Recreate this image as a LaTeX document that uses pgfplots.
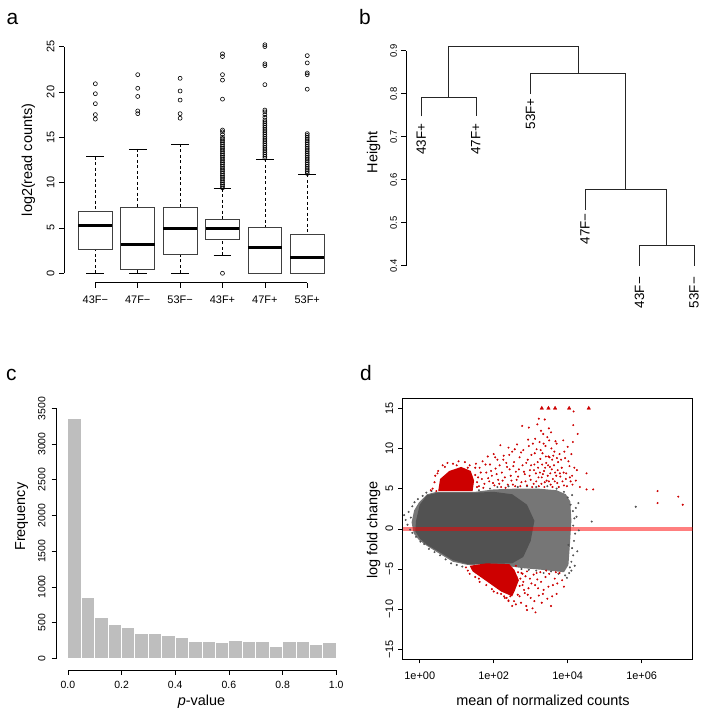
\documentclass[border=0pt]{standalone}
\usepackage{pgfplots}
\pgfplotsset{compat=1.18}
\usepgfplotslibrary{statistics}
\usepackage{fontspec}
\setmainfont{Liberation Sans}
\definecolor{ptgray}{HTML}{525252}
\definecolor{ptgraylt}{HTML}{767676}
\definecolor{ptred}{HTML}{CD0000}
\definecolor{histgray}{HTML}{BEBEBE}
\definecolor{boxedge}{HTML}{404040}
\pgfplotsset{
  /pgf/number format/assume math mode=true,
  rstyle/.style={
    scale only axis, anchor=south west, clip=false,
    axis x line*=bottom, axis y line*=left,
    axis line style={draw=none},
    tick align=outside, major tick length=5bp,
    tick style={black, line width=0.6bp},
  },
}
\newcommand{\tf}[1]{\fontsize{#1}{#1}\selectfont}
\begin{document}
\begin{tikzpicture}
\useasboundingbox (0bp,0bp) rectangle (704bp,712bp);

% ---------------- panel a ----------------
\begin{axis}[rstyle, at={(64bp,429.3bp)}, width=274.6bp, height=247bp,
  xmin=0.26, xmax=6.74, ymin=-1.04, ymax=26.2,
  xtick={1,2,3,4,5,6}, xticklabels={43F−,47F−,53F−,43F+,47F+,53F+},
  ytick={0,5,10,15,20,25}, yticklabels={0,5,10,15,20,25},
  ticklabel style={font=\tf{11}},
  xticklabel style={yshift=-5bp},
  yticklabel style={xshift=-1bp, rotate=90, anchor=south},
  boxplot/draw direction=y,
  boxplot/box extend=0.8,
  boxplot/whisker extend=0.42,
  boxplot/every box/.style={draw=boxedge, fill=white, line width=0.7bp},
  boxplot/every median/.style={black, line width=3bp},
  boxplot/draw/lower whisker/.code={%
    \draw[black, line width=0.6bp, dash pattern=on 3bp off 2.5bp]
      (boxplot cs:\pgfplotsboxplotvalue{lower whisker}) -- (boxplot cs:\pgfplotsboxplotvalue{lower quartile});
    \draw[black, line width=0.6bp]
      (boxplot whisker cs:\pgfplotsboxplotvalue{lower whisker},0) -- (boxplot whisker cs:\pgfplotsboxplotvalue{lower whisker},1);
  },
  boxplot/draw/upper whisker/.code={%
    \draw[black, line width=0.6bp, dash pattern=on 3bp off 2.5bp]
      (boxplot cs:\pgfplotsboxplotvalue{upper whisker}) -- (boxplot cs:\pgfplotsboxplotvalue{upper quartile});
    \draw[black, line width=0.6bp]
      (boxplot whisker cs:\pgfplotsboxplotvalue{upper whisker},0) -- (boxplot whisker cs:\pgfplotsboxplotvalue{upper whisker},1);
  },
  outl/.style={black, mark=o, mark size=2bp, mark options={solid, line width=0.6bp, draw=black}},
]
\addplot[outl, boxplot prepared={draw position=1, lower whisker=0, lower quartile=2.68, median=5.29, upper quartile=6.87, upper whisker=12.87}]
  coordinates {(0,17.0) (0,17.5) (0,18.7) (0,19.8) (0,20.9)};
\addplot[outl, boxplot prepared={draw position=2, lower whisker=0, lower quartile=0.48, median=3.16, upper quartile=7.32, upper whisker=13.71}]
  coordinates {(0,17.6) (0,17.9) (0,19.5) (0,20.4) (0,21.9)};
\addplot[outl, boxplot prepared={draw position=3, lower whisker=0, lower quartile=2.06, median=4.89, upper quartile=7.24, upper whisker=14.26}]
  coordinates {(0,17.1) (0,17.6) (0,19.1) (0,20.1) (0,21.5)};
\addplot[outl, boxplot prepared={draw position=4, lower whisker=1.99, lower quartile=3.75, median=4.96, upper quartile=5.96, upper whisker=9.34}]
  coordinates {(0,0) (0,9.4) (0,9.6) (0,9.8) (0,10.0) (0,10.2) (0,10.4) (0,10.6) (0,10.8) (0,11.0) (0,11.2) (0,11.4) (0,11.6) (0,11.8) (0,12.0) (0,12.2) (0,12.4) (0,12.6) (0,12.8) (0,13.0) (0,13.2) (0,13.4) (0,13.6) (0,13.8) (0,14.0) (0,14.2) (0,14.4) (0,14.6) (0,14.8) (0,15.0) (0,15.3) (0,15.6) (0,15.8) (0,19.2) (0,21.3) (0,21.9) (0,23.9) (0,24.2)};
\addplot[outl, boxplot prepared={draw position=5, lower whisker=0, lower quartile=0, median=2.87, upper quartile=5.04, upper whisker=12.57}]
  coordinates {(0,12.7) (0,12.9) (0,13.1) (0,13.3) (0,13.5) (0,13.7) (0,13.9) (0,14.1) (0,14.3) (0,14.5) (0,14.7) (0,14.9) (0,15.1) (0,15.3) (0,15.5) (0,15.7) (0,15.9) (0,16.1) (0,16.3) (0,16.5) (0,16.7) (0,16.9) (0,17.2) (0,17.5) (0,17.8) (0,18.0) (0,20.8) (0,22.9) (0,23.1) (0,25.0) (0,25.2)};
\addplot[outl, boxplot prepared={draw position=6, lower whisker=0, lower quartile=0, median=1.73, upper quartile=4.30, upper whisker=10.90}]
  coordinates {(0,11.0) (0,11.2) (0,11.4) (0,11.6) (0,11.8) (0,12.0) (0,12.2) (0,12.4) (0,12.6) (0,12.8) (0,13.0) (0,13.2) (0,13.4) (0,13.6) (0,13.8) (0,14.0) (0,14.2) (0,14.4) (0,14.6) (0,14.8) (0,15.0) (0,15.2) (0,15.4) (0,20.3) (0,21.9) (0,22.1) (0,23.2) (0,24.0)};
\draw[black, line width=0.6bp] (axis cs:1,-1.04) -- (axis cs:6,-1.04);
\draw[black, line width=0.6bp] (axis cs:0.26,0) -- (axis cs:0.26,25);
\end{axis}

% ---------------- panel b ----------------
\begin{axis}[rstyle, at={(406bp,446.3bp)}, width=294bp, height=227.9bp,
  xmin=0.719, xmax=6.11, ymin=0.4, ymax=0.93,
  xtick=\empty,
  ytick={0.4,0.5,0.6,0.7,0.8,0.9}, yticklabels={0.4,0.5,0.6,0.7,0.8,0.9},
  ticklabel style={font=\tf{9.5}},
  yticklabel style={xshift=-0.5bp, rotate=90, anchor=south},
]
\addplot[black!85, line width=0.7bp] coordinates {(1,0.747) (1,0.792) (2,0.792) (2,0.747)};
\addplot[black!85, line width=0.7bp] coordinates {(5,0.4) (5,0.447) (6,0.447) (6,0.4)};
\addplot[black!85, line width=0.7bp] coordinates {(4,0.530) (4,0.578) (5.5,0.578) (5.5,0.447)};
\addplot[black!85, line width=0.7bp] coordinates {(3,0.799) (3,0.847) (4.75,0.847) (4.75,0.578)};
\addplot[black!85, line width=0.7bp] coordinates {(1.5,0.792) (1.5,0.909) (3.875,0.909) (3.875,0.847)};
\draw[black, line width=0.6bp] (axis cs:0.719,0.4) -- (axis cs:0.719,0.9);
\node[rotate=90, anchor=east, inner sep=0, font=\tf{13.5}] at (axis cs:1,0.731) {43F+};
\node[rotate=90, anchor=east, inner sep=0, font=\tf{13.5}] at (axis cs:2,0.731) {47F+};
\node[rotate=90, anchor=east, inner sep=0, font=\tf{13.5}] at (axis cs:3,0.790) {53F+};
\node[rotate=90, anchor=east, inner sep=0, font=\tf{13.5}] at (axis cs:4,0.522) {47F−};
\node[rotate=90, anchor=east, inner sep=0, font=\tf{13.5}] at (axis cs:5,0.374) {43F−};
\node[rotate=90, anchor=east, inner sep=0, font=\tf{13.5}] at (axis cs:6,0.374) {53F−};
\end{axis}

% ---------------- panel c ----------------
\begin{axis}[rstyle, at={(56.6bp,42bp)}, width=290.4bp, height=271.6bp,
  xmin=-0.042, xmax=1.04, ymin=-164, ymax=3640,
  xtick={0,0.2,0.4,0.6,0.8,1}, xticklabels={0.0,0.2,0.4,0.6,0.8,1.0},
  ytick={0,500,1000,1500,2000,2500,3000,3500}, yticklabels={0,500,1000,1500,2000,2500,3000,3500},
  ticklabel style={font=\tf{10.5}},
  xticklabel style={yshift=-3bp},
  yticklabel style={xshift=-2.5bp, rotate=90, anchor=south},
]
\addplot[ybar interval, fill=histgray, draw=white, line width=1bp] coordinates {
(0,3360) (0.05,845) (0.1,565) (0.15,470) (0.2,435) (0.25,350) (0.3,345) (0.35,315) (0.4,290) (0.45,235)
(0.5,230) (0.55,225) (0.6,250) (0.65,230) (0.7,230) (0.75,165) (0.8,240) (0.85,235) (0.9,190) (0.95,225) (1.0,225)};
\draw[black, line width=0.6bp] (axis cs:0,-164) -- (axis cs:1,-164);
\draw[black, line width=0.6bp] (axis cs:-0.042,0) -- (axis cs:-0.042,3500);
\end{axis}

% ---------------- panel d ----------------
\begin{axis}[scale only axis, anchor=south west, at={(402.7bp,53bp)}, width=290bp, height=260.7bp,
  xmin=-0.46, xmax=7.38, ymin=-16.2, ymax=16.24,
  axis line style={line width=0.8bp, black},
  tick align=outside, major tick length=4.5bp, tick style={black, line width=0.6bp},
  xtick pos=left, ytick pos=left,
  xtick={0,2,4,6}, xticklabels={1e+00,1e+02,1e+04,1e+06},
  ytick={-15,-10,-5,0,5,10,15}, yticklabels={−15,−10,−5,0,5,10,15},
  ticklabel style={font=\tf{11}},
  xticklabel style={yshift=-4.5bp},
  yticklabel style={xshift=-1.5bp, rotate=90, anchor=south},
]
% dense grey cloud (outer, lighter)
\addplot[fill=ptgraylt, draw=none] coordinates {
(-0.22,0.8) (-0.15,2.3) (-0.02,3.3) (0.2,4.3) (0.45,4.6) (1.5,4.6) (2.0,4.9) (2.6,5.0) (3.2,5.0) (3.7,4.8)
(3.95,4.3) (4.07,3.4) (4.1,1.0) (4.06,-2.0) (4.02,-4.5) (3.9,-5.4) (3.3,-5.1) (2.8,-4.9) (2.0,-4.4) (1.3,-4.5)
(0.9,-4.1) (0.5,-3.0) (0.22,-2.2) (-0.02,-1.4) (-0.16,-0.6)} -- cycle;
% dense grey cloud (core)
\addplot[fill=ptgray, draw=none] coordinates {
(-0.1,1.0) (0.0,3.0) (0.2,4.2) (0.5,4.5) (1.5,4.5) (2.0,4.6) (2.5,4.3) (2.9,3.0) (3.1,1.0) (3.0,-1.5)
(2.8,-3.5) (2.5,-4.3) (1.3,-4.4) (0.9,-3.9) (0.5,-2.8) (0.2,-2.0) (0.0,-1.2) (-0.12,-0.3)} -- cycle;
% scattered grey points
\addplot[only marks, mark=*, mark size=0.8bp, ptgray] coordinates {
(-0.42,1.7) (-0.38,1.1) (-0.33,0.5) (-0.3,2.1) (-0.26,-0.1) (-0.24,1.4) (-0.2,2.8) (-0.2,-0.5) (-0.14,3.3)
(-0.1,-1.0) (-0.05,3.7) (0.02,-1.6) (0.08,4.1) (0.12,-1.9) (0.18,4.5) (0.25,-2.5) (0.32,4.7) (0.4,-2.9)
(0.55,-3.3) (0.7,-3.8) (0.85,-4.3) (1.0,-4.5) (1.15,-4.7)
(1.6,4.8) (1.9,5.0) (2.1,5.2) (2.4,5.3) (2.65,5.2) (2.9,5.3) (3.15,5.2) (3.45,5.3) (3.7,5.0) (3.9,4.6)
(4.0,3.9) (4.08,3.0) (4.14,2.2) (4.18,1.3) (4.15,0.4) (4.2,-0.6) (4.17,-1.5) (4.12,-2.4) (4.15,-3.3)
(4.1,-4.1) (4.06,-4.8) (4.04,-5.5) (3.93,-5.8) (4.24,1.5) (4.29,3.2) (4.02,-2.0)
(4.22,2.6) (4.26,-2.8) (4.19,-4.6) (4.3,-0.2) (4.12,4.2) (4.1,-5.2) (3.98,-6.1)
(3.75,-5.6) (3.55,-5.3) (3.35,-5.5) (3.15,-5.2) (2.95,-5.1) (2.75,-5.0)
(4.65,0.9) (5.84,2.75)};
% dense red clusters
\addplot[fill=ptred, draw=none] coordinates {
(0.5,4.7) (0.55,6.2) (0.8,7.2) (1.12,7.7) (1.38,7.2) (1.47,6.0) (1.43,4.7)} -- cycle;
\addplot[fill=ptred, draw=none] coordinates {
(1.35,-4.6) (1.8,-4.3) (2.42,-4.4) (2.56,-5.1) (2.68,-6.4) (2.57,-7.7) (2.5,-8.4) (2.2,-7.8) (1.77,-6.4) (1.43,-5.3)} -- cycle;
% scattered red points
\addplot[only marks, mark=*, mark size=0.8bp, ptred] coordinates {
(0.35,5.0) (0.4,5.8) (0.42,6.6) (0.5,7.2) (0.62,7.9) (0.75,8.2) (0.9,8.1) (1.05,8.4) (1.22,8.3) (1.35,7.9)
(1.5,7.6) (1.55,5.2) (1.58,6.4) (0.3,4.8) (0.45,4.7) (0.48,6.9) (0.68,7.7) (1.0,7.9) (1.3,7.6) (1.5,6.7)
(1.52,8.1) (1.6,5.3) (1.62,7.6) (1.68,6.2) (1.7,8.4) (1.75,5.6) (1.8,7.0) (1.84,9.0) (1.88,5.9) (1.9,8.0)
(1.95,6.6) (2.0,9.3) (2.02,5.4) (2.05,7.5) (2.1,8.6) (2.12,6.1) (2.18,10.4) (2.2,5.2) (2.22,7.0) (2.27,9.1)
(2.3,6.4) (2.34,8.2) (2.38,5.5) (2.4,10.1) (2.43,7.4) (2.48,6.0) (2.5,9.6) (2.55,8.3) (2.58,5.3) (2.6,7.1)
(2.63,10.5) (2.66,6.5) (2.7,8.9) (2.77,12.8) (2.75,5.8) (2.78,7.9) (2.8,9.8) (2.84,6.8) (2.95,12.6) (2.9,5.4)
(2.92,8.6) (2.95,10.3) (2.98,7.3) (3.0,6.1) (3.02,9.2) (3.22,13.7) (3.08,5.6) (3.1,8.0) (3.12,11.2) (3.14,6.9)
(3.16,9.9) (3.18,13.0) (3.2,7.6) (3.22,5.3) (3.24,10.8) (3.26,8.7) (3.28,12.2) (3.3,6.4) (3.32,9.4) (3.34,11.8)
(3.36,7.2) (3.38,5.8) (3.4,10.3) (3.42,8.2) (3.38,13.6) (3.46,6.6) (3.48,9.0) (3.5,11.0) (3.52,7.7) (3.54,5.5)
(3.56,10.0) (3.58,8.6) (3.6,6.2) (3.49,12.5) (3.64,9.6) (3.66,7.0) (3.7,10.6) (3.72,5.7) (3.74,8.3) (3.78,9.3)
(3.8,6.5) (3.84,7.6) (3.88,11.0) (3.9,5.4) (3.93,8.8) (3.96,6.9) (4.0,10.2) (4.05,7.8) (4.08,5.9) (4.12,6.6)
(4.16,14.6) (4.15,12.9) (4.27,11.8) (4.14,10.8) (4.25,7.3) (4.33,5.2) (4.51,6.9) (4.69,4.9) (4.51,4.9)
(1.55,5.8) (1.65,7.0) (1.72,5.1) (1.78,8.0) (1.85,6.3) (1.93,7.2) (1.98,5.7) (2.04,8.9) (2.08,6.8) (2.15,5.6)
(2.16,7.9) (2.24,6.0) (2.26,8.6) (2.32,5.1) (2.36,7.7) (2.42,9.2) (2.46,6.6) (2.52,5.5) (2.53,7.8) (2.57,9.9)
(2.62,6.1) (2.68,7.4) (2.72,5.3) (2.74,9.5) (2.82,7.1) (2.86,5.9) (2.88,8.2) (2.93,11.1) (2.97,6.6) (3.01,7.9)
(3.04,5.2) (3.06,10.6) (3.09,7.3) (3.11,9.4) (3.15,5.9) (3.19,8.3) (3.21,6.4) (3.25,7.0) (3.27,9.8) (3.29,5.6)
(3.31,8.0) (3.33,6.8) (3.35,10.6) (3.37,5.2) (3.39,7.6) (3.41,9.0) (3.43,6.0) (3.45,11.4) (3.47,7.9) (3.49,5.9)
(3.51,8.9) (3.53,6.9) (3.55,12.0) (3.57,7.4) (3.59,5.2) (3.61,9.1) (3.63,7.9) (3.65,5.9) (3.67,10.9) (3.69,6.6)
(3.71,8.8) (3.73,7.3) (3.76,5.2) (3.79,6.9) (3.82,8.6) (3.86,5.9) (3.89,7.0) (3.91,9.6) (3.95,6.2) (3.98,5.3)
(4.02,8.4) (4.06,6.4) (4.1,9.3) (4.13,5.5) (4.18,7.6) (4.22,6.0)
(6.43,4.7) (6.43,3.2) (6.99,4.0) (7.11,3.0)
(1.25,-4.8) (1.35,-5.6) (1.5,-6.0) (1.62,-6.6) (1.8,-7.0) (1.95,-7.5) (2.1,-8.0) (2.28,-8.4) (2.4,-8.9)
(2.55,-9.0) (2.7,-8.4) (2.78,-7.0) (2.75,-5.5) (2.6,-4.6) (1.3,-5.2) (1.6,-6.2) (2.0,-7.8) (2.35,-8.6)
(2.62,-6.0) (2.65,-8.2) (2.7,-7.1) (2.74,-9.2) (2.78,-5.6) (2.8,-6.6) (2.84,-8.0) (2.88,-9.6) (2.9,-5.3)
(2.94,-7.4) (2.98,-6.2) (3.0,-8.6) (3.05,-9.9) (3.08,-5.7) (3.12,-7.0) (3.13,-10.4) (3.18,-6.3) (3.22,-8.3)
(3.26,-5.4) (3.3,-9.2) (3.35,-7.6) (3.4,-6.0) (3.45,-8.7) (3.5,-5.6) (3.55,-9.6) (3.6,-7.0) (3.65,-6.2)
(3.7,-8.1) (3.78,-5.5) (3.85,-6.4) (2.3,-8.6) (2.4,-9.0) (2.45,-8.4) (2.2,-8.1)
(2.66,-5.4) (2.72,-6.2) (2.82,-7.6) (2.86,-5.9) (2.92,-8.2) (3.02,-6.8) (3.1,-9.0) (3.16,-5.5) (3.2,-7.4)
(3.28,-6.6) (3.33,-8.1) (3.42,-5.2) (3.48,-7.2) (3.58,-8.4) (3.68,-5.4) (3.72,-6.8) (3.9,-7.2) (2.5,-9.6)
(2.6,-9.4) (2.9,-10.1)};
\addplot[only marks, mark=triangle*, mark size=2bp, ptred] coordinates {
(3.3,15) (3.48,15) (3.66,15) (4.04,15) (4.57,15)};
\addplot[red, opacity=0.5, line width=4bp] coordinates {(-0.46,0) (7.38,0)};
\end{axis}

% ---------------- labels ----------------
\node[rotate=90, font=\tf{14.5}] at (28.3bp,552bp) {log2(read counts)};
\node[rotate=90, font=\tf{14.5}] at (373.7bp,559.5bp) {Height};
\node[rotate=90, font=\tf{14.5}] at (21.7bp,195.3bp) {Frequency};
\node[rotate=90, font=\tf{14.5}] at (373.7bp,182bp) {log fold change};
\node[anchor=base, font=\tf{14.5}, inner sep=0] at (201.5bp,7bp) {\textit{p}-value};
\node[anchor=base, font=\tf{14.5}, inner sep=0] at (543bp,7bp) {mean of normalized counts};
\node[anchor=base west, font=\tf{21}, inner sep=0] at (6.5bp,687bp) {a};
\node[anchor=base west, font=\tf{21}, inner sep=0] at (359bp,687bp) {b};
\node[anchor=base west, font=\tf{21}, inner sep=0] at (6bp,331bp) {c};
\node[anchor=base west, font=\tf{21}, inner sep=0] at (360bp,331bp) {d};
\end{tikzpicture}
\end{document}
